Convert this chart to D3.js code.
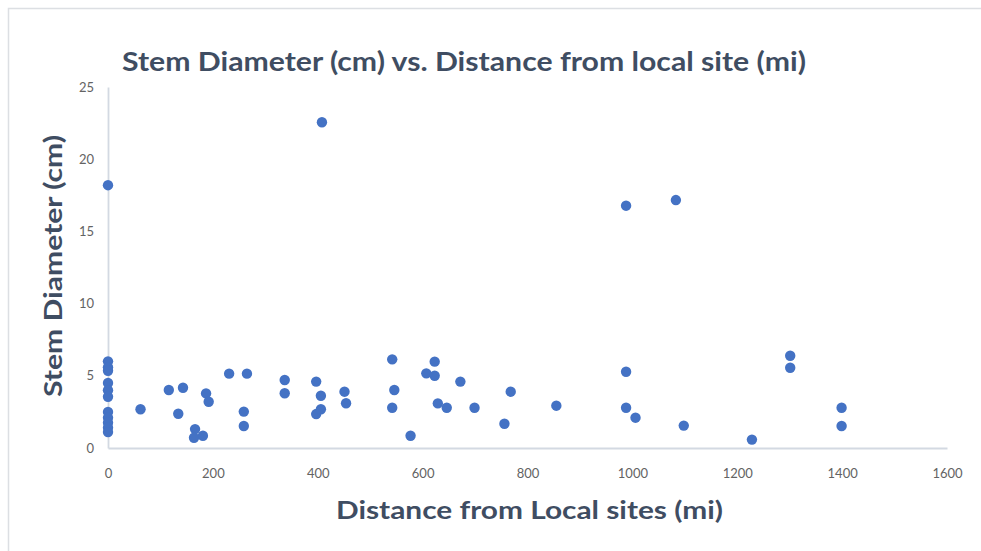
<!DOCTYPE html>
<html>
<head>
<meta charset="utf-8">
<script src="https://cdn.jsdelivr.net/npm/d3@7"></script>
<style>
  html, body { margin: 0; padding: 0; background: #ffffff; }
  svg { display: block; }
</style>
</head>
<body>
<svg id="chart" width="981" height="551"></svg>
<script>
// Stem diameter (cm) against distance from the local site (mi)
const distance = [
  0, 0, 0, 0, 0, 0, 0, 0, 0, 0, 0, 0,
  62, 116, 143, 134, 187, 192, 166, 164, 181,
  231, 265, 259, 259, 337, 337, 397, 406, 397, 406,
  451, 454, 408, 542, 546, 542, 577, 623, 607, 623,
  672, 629, 646, 699, 768, 756, 855, 988, 988, 1006,
  1098, 1228, 1301, 1301, 1399, 1399, 988, 1083
];
const diameter = [
  18.2, 6.0, 5.6, 5.35, 4.5, 4.0, 3.55, 2.5, 2.1, 1.75, 1.4, 1.1,
  2.68, 4.02, 4.17, 2.37, 3.78, 3.2, 1.31, 0.71, 0.85,
  5.15, 5.15, 2.52, 1.52, 4.71, 3.79, 4.6, 3.62, 2.35, 2.68,
  3.9, 3.1, 22.56, 6.14, 4.02, 2.79, 0.85, 5.98, 5.17, 5.0,
  4.6, 3.09, 2.79, 2.79, 3.9, 1.68, 2.93, 5.28, 2.79, 2.1,
  1.55, 0.58, 6.39, 5.56, 2.79, 1.52, 16.78, 17.17
];
const xTicks = [0, 200, 400, 600, 800, 1000, 1200, 1400, 1600];
const yTicks = [0, 5, 10, 15, 20, 25];

const chartTitle = "Stem Diameter (cm) vs. Distance from local site (mi)";
const xTitle = "Distance from Local sites (mi)";
const yTitle = "Stem Diameter (cm)";

const points = distance.map((d, i) => ({ x: d, y: diameter[i] }));

const svg = d3.select("#chart");
const font = "Lato, 'Open Sans', sans-serif";
const titleColor = "#3f4d62";
const tickColor = "#636363";
const axisColor = "#d3d9e2";

// Outer chart frame (only its left and top edges fall inside the view)
svg.append("rect")
  .attr("x", 8.5).attr("y", 8.5)
  .attr("width", 1000).attr("height", 600)
  .attr("fill", "none")
  .attr("stroke", "#dcdfe3")
  .attr("stroke-width", 1.5);

const x = d3.scaleLinear().domain([0, 1600]).range([108, 947]);
const y = d3.scaleLinear().domain([0, 25]).range([448, 87]);

// Axes: plain integer labels, no tick marks
const plain = d3.format("d");
const xAxis = d3.axisBottom(x).tickValues(xTicks).tickFormat(plain).tickSize(0).tickPadding(18);
const yAxis = d3.axisLeft(y).tickValues(yTicks).tickFormat(plain).tickSize(0).tickPadding(14);

const gx = svg.append("g").attr("transform", `translate(0,${y(0)})`).call(xAxis);
const gy = svg.append("g").attr("transform", `translate(${x(0)},0)`).call(yAxis);

[gx, gy].forEach(g => {
  g.select(".domain").attr("stroke", axisColor).attr("stroke-width", 1.8);
  g.selectAll("text")
    .attr("font-family", font)
    .attr("font-size", 13)
    .attr("fill", tickColor);
});
gx.selectAll("text").attr("dy", "0.35em").attr("y", 25);

// Scatter points
svg.append("g")
  .selectAll("circle")
  .data(points)
  .join("circle")
  .attr("cx", d => x(d.x))
  .attr("cy", d => y(d.y))
  .attr("r", 5.2)
  .attr("fill", "#4472c4");

// Titles
svg.append("text")
  .attr("x", 122).attr("y", 71)
  .attr("font-family", font)
  .attr("font-weight", "bold")
  .attr("font-size", 26)
  .attr("fill", titleColor)
  .attr("textLength", 684)
  .attr("lengthAdjust", "spacingAndGlyphs")
  .text(chartTitle);

svg.append("text")
  .attr("x", 336).attr("y", 519)
  .attr("font-family", font)
  .attr("font-weight", "bold")
  .attr("font-size", 25)
  .attr("fill", titleColor)
  .attr("textLength", 387)
  .attr("lengthAdjust", "spacingAndGlyphs")
  .text(xTitle);

svg.append("text")
  .attr("transform", "translate(62,397) rotate(-90)")
  .attr("font-family", font)
  .attr("font-weight", "bold")
  .attr("font-size", 24)
  .attr("fill", titleColor)
  .attr("textLength", 262)
  .attr("lengthAdjust", "spacingAndGlyphs")
  .text(yTitle);
</script>
</body>
</html>
